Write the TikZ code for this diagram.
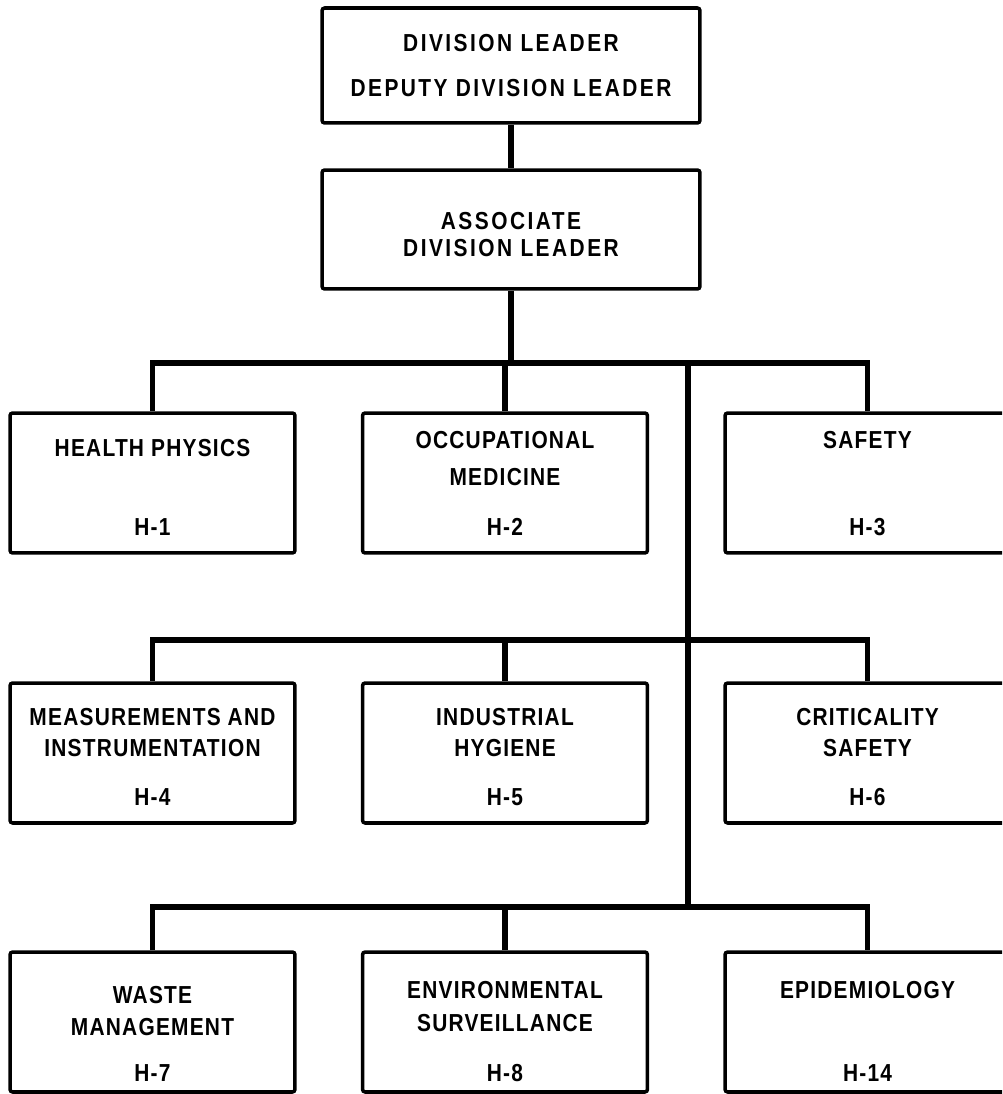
\documentclass[tikz,border=0pt]{standalone}
\usepackage{fontspec}
\newfontfamily\orgfont{Liberation Sans}[FakeStretch=0.85, LetterSpace=5]
\newfontfamily\headfont{Liberation Sans}[FakeStretch=0.85, LetterSpace=10]
\tikzset{
  unit/.style={draw, line width=2pt, rounded corners=1.5pt,
    minimum width=5.7cm, minimum height=2.8cm, inner sep=0pt},
  lbl/.style={font=\orgfont\bfseries\fontsize{14}{16}\selectfont, inner sep=0pt},
  headlbl/.style={lbl, font=\headfont\bfseries\fontsize{14}{16}\selectfont},
  wire/.style={line width=3pt}
}
\begin{document}
\begin{tikzpicture}[x=0.02cm, y=-0.02cm]
  \def\Xa{152.5};
  \def\Xb{505};
  \def\Xc{867.5};
  \def\Xm{511};
  \def\Xs{688};
  \def\Ya{413};
  \def\Yb{683};
  \def\Yc{952};
  \useasboundingbox (0,0) rectangle (1002,1094);
  \clip (0,0) rectangle (1002,1094);

         \node[unit, minimum width=7.56cm, minimum height=2.3cm] (dl) at (\Xm, 65.5) {};  % leader
         \node[headlbl] (dl1) at (\Xm, 43) {DIVISION LEADER};
         \node[headlbl] (dl2) at (\Xm, 88) {DEPUTY DIVISION LEADER};
         \node[unit, minimum width=7.56cm, minimum height=2.38cm] (adl) at (\Xm, 229.5) {};  % associate
         \node[headlbl] (adl1) at (\Xm, 221) {ASSOCIATE};
         \node[headlbl] (adl2) at (\Xm, 248) {DIVISION LEADER};

         % H-1 .. H-3
         \node[unit] (hp) at (\Xa, \Ya + 70) {};
         \node[lbl] (hp1) at (\Xa, \Ya + 35) {HEALTH PHYSICS};
         \node[lbl] (hp2) at (\Xa, \Ya + 114) {H-1};
         \node[unit] (om) at (\Xb, \Ya + 70) {};
         \node[lbl] (om1) at (\Xb, \Ya + 27) {OCCUPATIONAL};
         \node[lbl] (om2) at (\Xb, \Ya + 64) {MEDICINE};
         \node[lbl] (om3) at (\Xb, \Ya + 114) {H-2};
         \node[unit] (saf) at (\Xc, \Ya + 70) {};
         \node[lbl] (saf1) at (\Xc, \Ya + 27) {SAFETY};
         \node[lbl] (saf2) at (\Xc, \Ya + 114) {H-3};

         % H-4 .. H-6
         \node[unit] (mi) at (\Xa, \Yb + 70) {};
         \node[lbl] (mi1) at (\Xa, \Yb + 34) {MEASUREMENTS AND};
         \node[lbl] (mi2) at (\Xa, \Yb + 65) {INSTRUMENTATION};
         \node[lbl] (mi3) at (\Xa, \Yb + 114) {H-4};
         \node[unit] (ih) at (\Xb, \Yb + 70) {};
         \node[lbl] (ih1) at (\Xb, \Yb + 34) {INDUSTRIAL};
         \node[lbl] (ih2) at (\Xb, \Yb + 65) {HYGIENE};
         \node[lbl] (ih3) at (\Xb, \Yb + 114) {H-5};
         \node[unit] (cs) at (\Xc, \Yb + 70) {};
         \node[lbl] (cs1) at (\Xc, \Yb + 34) {CRITICALITY};
         \node[lbl] (cs2) at (\Xc, \Yb + 65) {SAFETY};
         \node[lbl] (cs3) at (\Xc, \Yb + 114) {H-6};

         % H-7, H-8, H-14
         \node[unit] (wm) at (\Xa, \Yc + 70) {};
         \node[lbl] (wm1) at (\Xa, \Yc + 43) {WASTE};
         \node[lbl] (wm2) at (\Xa, \Yc + 75) {MANAGEMENT};
         \node[lbl] (wm3) at (\Xa, \Yc + 121) {H-7};
         \node[unit] (es) at (\Xb, \Yc + 70) {};
         \node[lbl] (es1) at (\Xb, \Yc + 38) {ENVIRONMENTAL};
         \node[lbl] (es2) at (\Xb, \Yc + 71) {SURVEILLANCE};
         \node[lbl] (es3) at (\Xb, \Yc + 121) {H-8};
         \node[unit] (ep) at (\Xc, \Yc + 70) {};
         \node[lbl] (ep1) at (\Xc, \Yc + 38) {EPIDEMIOLOGY};
         \node[lbl] (ep2) at (\Xc, \Yc + 121) {H-14};

	\coordinate (busA) at (\Xs, \Ya - 50);
	\coordinate (busB) at (\Xs, \Yb - 43);
	\coordinate (busC) at (\Xs, \Yc - 45);

	\draw[wire] (dl.south) -- (adl.north);
	\draw[wire] (adl.south) -- (adl.south |- busA);
	\draw[wire] (hp.north) |- (busA) -| (saf.north);   % first row
	\draw[wire] (om.north) -- (om.north |- busA);
	\draw[wire] (busA) -- (busC);                      % spine
	\draw[wire] (mi.north) |- (busB) -| (cs.north);     % second row
	\draw[wire] (ih.north) -- (ih.north |- busB);
	\draw[wire] (wm.north) |- (busC) -| (ep.north);     % third row
	\draw[wire] (es.north) -- (es.north |- busC);
\end{tikzpicture}
\end{document}
